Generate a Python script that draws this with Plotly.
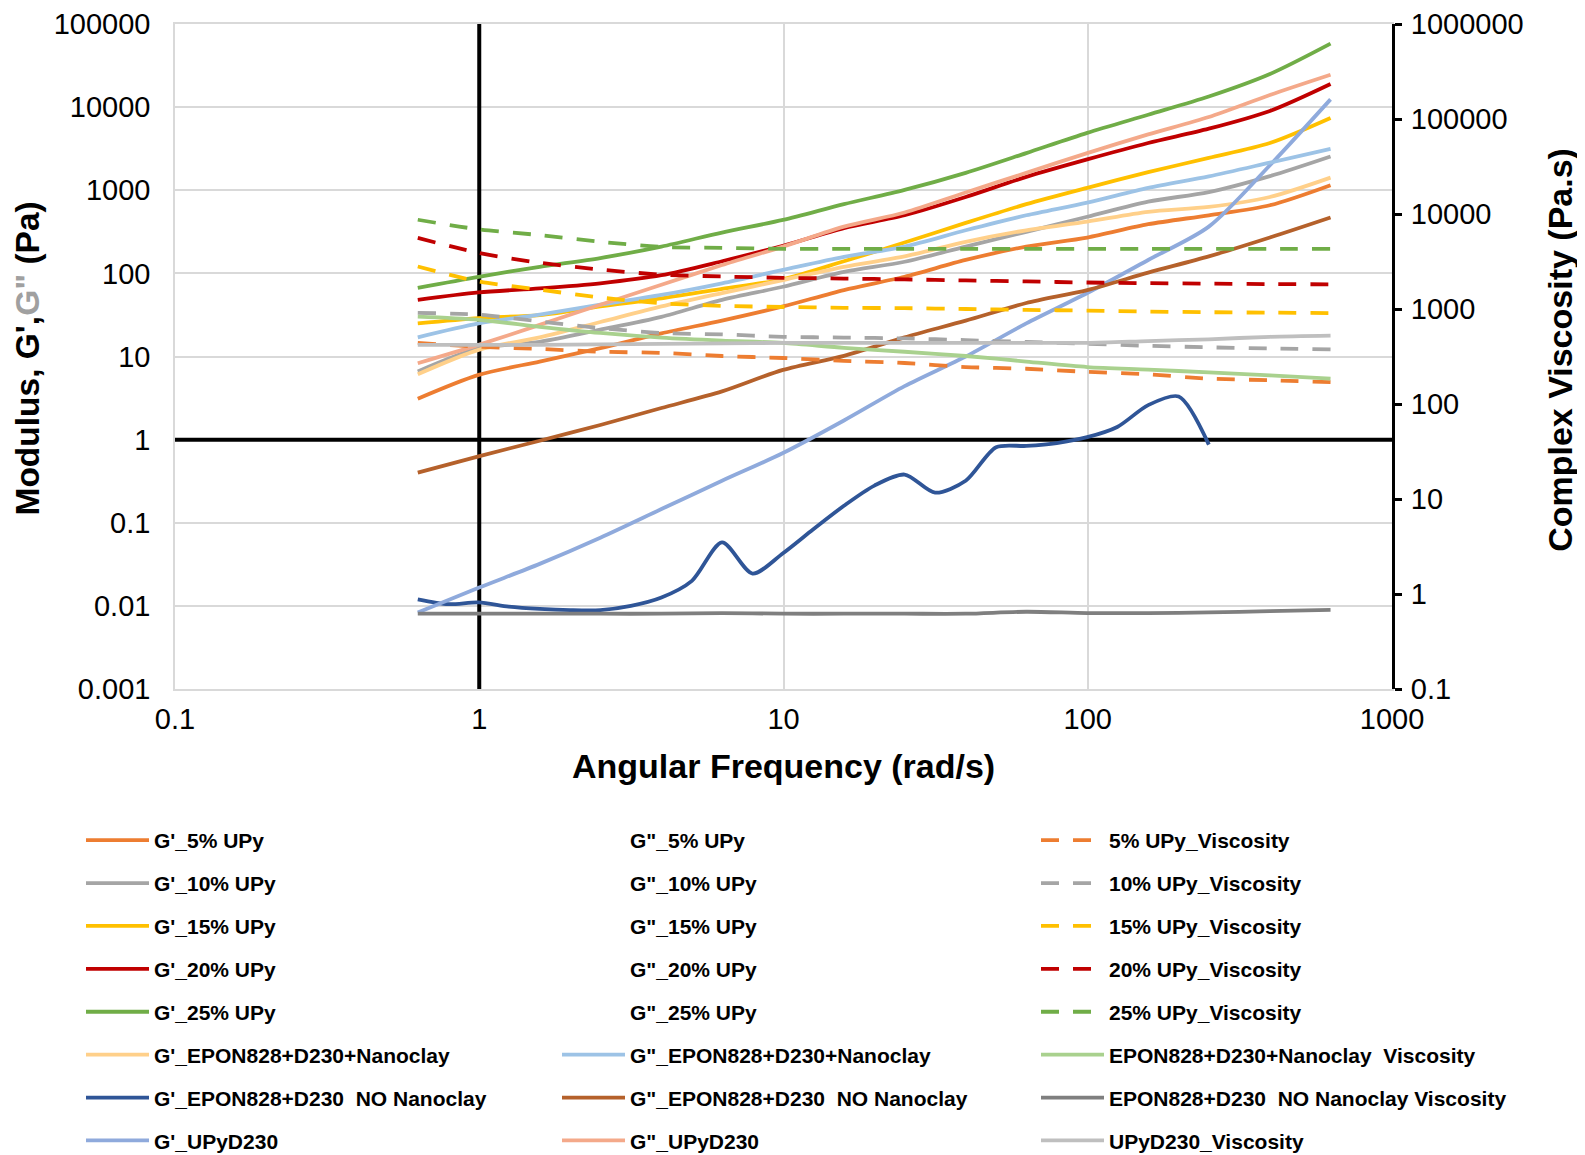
import plotly.graph_objects as go

# ---------------- data ----------------
freq = [0.628, 0.995, 1.58, 2.50, 3.97, 6.28, 9.96, 15.8, 25.0, 39.7, 62.8, 99.6, 158, 250, 397, 628]
freq_fine = [0.628, 0.791, 0.995, 1.25, 1.58, 1.99, 2.50, 3.15, 3.97, 5.00, 6.28, 7.91, 9.96,
             12.5, 15.8, 19.9, 25.0, 31.5, 39.7, 50.0, 62.8, 79.1, 99.6, 125, 158, 199, 250]

gp_5 = [3.1, 6.0, 8.7, 12.6, 19, 27, 40, 63, 91, 145, 210, 270, 390, 500, 660, 1150]
gp_10 = [6.6, 12.5, 15, 21, 30, 48, 69, 104, 138, 210, 316, 480, 730, 950, 1480, 2550]
gp_15 = [25, 29, 31.5, 40, 50, 65, 85, 140, 235, 405, 680, 1070, 1650, 2450, 3700, 7400]
gp_20 = [48, 59, 66, 76, 95, 140, 215, 350, 500, 830, 1450, 2350, 3700, 5500, 9000, 19000]
gp_25 = [67, 91, 120, 153, 210, 310, 440, 680, 1010, 1620, 2800, 4900, 8100, 13400, 25000, 58000]
gp_nc = [6.1, 12, 17, 26, 40, 58, 83, 120, 160, 240, 330, 420, 550, 630, 830, 1420]
gp_no = [0.012, 0.0105, 0.011, 0.0098, 0.0092, 0.0089, 0.0089, 0.0100, 0.0126, 0.020, 0.058,
         0.0245, 0.043, 0.083, 0.16, 0.28, 0.38, 0.23, 0.32, 0.81, 0.84, 0.91, 1.07, 1.42, 2.6, 3.3, 0.87]
gp_upy = [0.0083, 0.0165, 0.032, 0.066, 0.146, 0.32, 0.69, 1.7, 4.4, 10, 25, 58, 145, 365, 2000, 12400]

# G" series for 5-25 % UPy are listed in the legend but drawn with no line in the reference
gpp_5 = [None]
gpp_10 = [None]
gpp_15 = [None]
gpp_20 = [None]
gpp_25 = [None]
gpp_nc = [17, 25, 32, 42, 55, 76, 110, 158, 210, 330, 500, 710, 1070, 1470, 2150, 3150]
gpp_no = [0.40, 0.63, 0.97, 1.5, 2.4, 3.8, 6.9, 10.2, 17, 27, 44, 63, 102, 160, 270, 470]
gpp_upy = [8.3, 13.8, 24, 42, 73, 126, 210, 365, 540, 940, 1620, 2800, 4700, 7600, 14000, 24500]

v_5 = [440, 400, 380, 355, 345, 320, 305, 285, 270, 245, 235, 218, 205, 185, 178, 170]
v_10 = [910, 870, 740, 630, 560, 540, 510, 500, 490, 470, 450, 430, 410, 395, 385, 375]
v_15 = [2800, 1950, 1600, 1320, 1150, 1080, 1050, 1030, 1020, 1000, 980, 960, 940, 925, 915, 905]
v_20 = [5600, 3900, 3070, 2600, 2300, 2200, 2130, 2090, 2050, 2000, 1950, 1900, 1870, 1850, 1830, 1820]
v_25 = [8700, 6900, 6000, 5100, 4500, 4400, 4300, 4300, 4300, 4300, 4300, 4300, 4300, 4300, 4300, 4300]
v_nc = [830, 770, 650, 560, 500, 465, 440, 390, 355, 320, 280, 245, 230, 215, 200, 185]
v_no = [0.62, 0.62, 0.62, 0.62, 0.62, 0.63, 0.62, 0.62, 0.62, 0.62, 0.65, 0.63, 0.63, 0.64, 0.66, 0.68]
v_upy = [420, 420, 420, 425, 430, 435, 440, 440, 440, 440, 440, 440, 460, 480, 510, 525]

x_ticks = [0.1, 1, 10, 100, 1000]
x_ticktext = ["0.1", "1", "10", "100", "1000"]
y_ticks = [0.001, 0.01, 0.1, 1, 10, 100, 1000, 10000, 100000]
y_ticktext = ["0.001", "0.01", "0.1", "1", "10", "100", "1000", "10000", "100000"]
y2_ticks = [0.1, 1, 10, 100, 1000, 10000, 100000, 1000000]
y2_ticktext = ["0.1", "1", "10", "100", "1000", "10000", "100000", "1000000"]

x_title = "Angular Frequency (rad/s)"
y_title = "Modulus, G',<span style='color:#A0A0A0'>G\"</span> (Pa)"
y2_title = "Complex Viscosity (Pa.s)"

# ---------------- series definitions ----------------
DASH = "18px,14px"
series = [
    ("G'_5% UPy", freq, gp_5, "#ED7D31", "solid", "y", "legend", 3.8),
    ("G'_10% UPy", freq, gp_10, "#A5A5A5", "solid", "y", "legend", 3.8),
    ("G'_15% UPy", freq, gp_15, "#FFC000", "solid", "y", "legend", 3.8),
    ("G'_20% UPy", freq, gp_20, "#C00000", "solid", "y", "legend", 3.8),
    ("G'_25% UPy", freq, gp_25, "#70AD47", "solid", "y", "legend", 3.8),
    ("G'_EPON828+D230+Nanoclay", freq, gp_nc, "#FFD08A", "solid", "y", "legend", 3.8),
    ("G'_EPON828+D230  NO Nanoclay", freq_fine, gp_no, "#2F5597", "solid", "y", "legend", 3.8),
    ("G'_UPyD230", freq, gp_upy, "#8FAADC", "solid", "y", "legend", 3.8),
    ('G"_5% UPy', freq[:len(gpp_5)], gpp_5, "rgba(0,0,0,0)", "solid", "y", "legend2", 0),
    ('G"_10% UPy', freq[:len(gpp_10)], gpp_10, "rgba(0,0,0,0)", "solid", "y", "legend2", 0),
    ('G"_15% UPy', freq[:len(gpp_15)], gpp_15, "rgba(0,0,0,0)", "solid", "y", "legend2", 0),
    ('G"_20% UPy', freq[:len(gpp_20)], gpp_20, "rgba(0,0,0,0)", "solid", "y", "legend2", 0),
    ('G"_25% UPy', freq[:len(gpp_25)], gpp_25, "rgba(0,0,0,0)", "solid", "y", "legend2", 0),
    ('G"_EPON828+D230+Nanoclay', freq, gpp_nc, "#9DC3E6", "solid", "y", "legend2", 3.8),
    ('G"_EPON828+D230  NO Nanoclay', freq, gpp_no, "#B5612B", "solid", "y", "legend2", 3.8),
    ('G"_UPyD230', freq, gpp_upy, "#F4A98A", "solid", "y", "legend2", 3.8),
    ("5% UPy_Viscosity", freq, v_5, "#ED7D31", DASH, "y2", "legend3", 3.8),
    ("10% UPy_Viscosity", freq, v_10, "#A5A5A5", DASH, "y2", "legend3", 3.8),
    ("15% UPy_Viscosity", freq, v_15, "#FFC000", DASH, "y2", "legend3", 3.8),
    ("20% UPy_Viscosity", freq, v_20, "#C00000", DASH, "y2", "legend3", 3.8),
    ("25% UPy_Viscosity", freq, v_25, "#70AD47", DASH, "y2", "legend3", 3.8),
    ("EPON828+D230+Nanoclay  Viscosity", freq, v_nc, "#A9D18E", "solid", "y2", "legend3", 3.8),
    ("EPON828+D230  NO Nanoclay Viscosity", freq, v_no, "#7F7F7F", "solid", "y2", "legend3", 3.8),
    ("UPyD230_Viscosity", freq, v_upy, "#BFBFBF", "solid", "y2", "legend3", 3.8),
]

FONT = "Liberation Sans, Arial, sans-serif"
fig = go.Figure()

# axis-crossing black lines (Excel axes crossing at 1)
fig.add_trace(go.Scatter(x=[1, 1], y=[y_ticks[0], y_ticks[-1]], mode="lines",
                         line=dict(color="black", width=4), showlegend=False, hoverinfo="skip"))
fig.add_trace(go.Scatter(x=[x_ticks[0], x_ticks[-1]], y=[1, 1], mode="lines",
                         line=dict(color="black", width=4), showlegend=False, hoverinfo="skip"))

for i, (name, xs, ys, color, dash, ax, leg, w) in enumerate(series):
    fig.add_trace(go.Scatter(
        x=xs, y=ys, name=name, mode="lines", yaxis=ax, legend=leg,
        legendgroup="g%d" % i, showlegend=True,
        line=dict(color=color, width=w, dash=dash, shape="spline", smoothing=0.8),
        hoverinfo="name+x+y",
    ))

# figure is offset by the page's 8px body margin
W, H = 1577, 1147
ML, MT = 167, 16
PW, PH = 1217, 665

legend_common = dict(
    xref="container", yref="container", xanchor="left", yanchor="top",
    font=dict(family=FONT, size=21, color="black", weight="bold"),
    itemwidth=63, tracegroupgap=12.6, traceorder="grouped",
    bgcolor="rgba(0,0,0,0)", borderwidth=0,
)
legend_top = 1 - 812 / H

title_font = dict(family=FONT, color="black", weight="bold")
annotations = [
    dict(text=x_title, xref="paper", yref="paper", x=0.5, y=1 - (758 - MT) / PH,
         xanchor="center", yanchor="middle", showarrow=False,
         font=dict(title_font, size=34)),
    dict(text=y_title, xref="paper", yref="paper", x=(19 - ML) / PW, y=0.497,
         xanchor="center", yanchor="middle", showarrow=False, textangle=-90,
         font=dict(title_font, size=33.5)),
    dict(text=y2_title, xref="paper", yref="paper", x=(1552 - ML) / PW, y=0.51,
         xanchor="center", yanchor="middle", showarrow=False, textangle=-90,
         font=dict(title_font, size=34)),
]

fig.update_layout(
    width=W, height=H,
    template="none",
    paper_bgcolor="white", plot_bgcolor="white",
    margin=dict(l=ML, r=W - ML - PW, t=MT, b=H - MT - PH, pad=0, autoexpand=False),
    font=dict(family=FONT, color="black"),
    legend=dict(legend_common, x=73 / W, y=legend_top),
    legend2=dict(legend_common, x=549 / W, y=legend_top),
    legend3=dict(legend_common, x=1028 / W, y=legend_top),
    annotations=annotations,
    xaxis=dict(
        type="log", range=[-1, 3], tickvals=x_ticks, ticktext=x_ticktext,
        showgrid=True, gridcolor="#D9D9D9", gridwidth=1.5,
        showline=True, linecolor="#D9D9D9", linewidth=1.5, mirror=True,
        ticks="", tickfont=dict(size=29, color="black", family=FONT),
        ticklabelstandoff=3, automargin=False, zeroline=False, tickangle=0,
    ),
    yaxis=dict(
        type="log", range=[-3, 5], tickvals=y_ticks, ticktext=y_ticktext,
        showgrid=True, gridcolor="#D9D9D9", gridwidth=1.5,
        showline=True, linecolor="#D9D9D9", linewidth=1.5, mirror=True,
        ticks="", tickfont=dict(size=29, color="black", family=FONT),
        ticklabelstandoff=17, automargin=False, zeroline=False,
    ),
    yaxis2=dict(
        type="log", range=[-1, 6], tickvals=y2_ticks, ticktext=y2_ticktext,
        overlaying="y", side="right", showgrid=False, zeroline=False,
        showline=True, linecolor="black", linewidth=3,
        ticks="outside", ticklen=7, tickwidth=3, tickcolor="black",
        tickfont=dict(size=29, color="black", family=FONT),
        ticklabelstandoff=3, automargin=False,
    ),
)

fig.write_html("out.html")
